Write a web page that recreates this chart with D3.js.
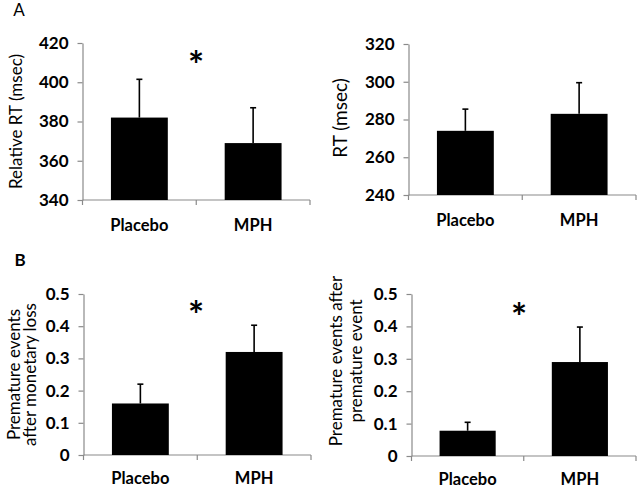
<!DOCTYPE html>
<html>
<head>
<meta charset="utf-8">
<script src="https://cdn.jsdelivr.net/npm/d3@7"></script>
<style>
  html, body { margin: 0; padding: 0; background: #fff; }
  svg { display: block; font-family: Lato, "Open Sans", sans-serif; }
</style>
</head>
<body>
<svg id="chart" width="640" height="490"></svg>
<script>
// ---- data ----
const categories = ["Placebo", "MPH"];

const relRTMeans = [382, 369];
const relRTErr   = [19.5, 18];
const relRTTicks = [340, 360, 380, 400, 420];

const rtMeans = [274, 283];
const rtErr   = [11.5, 16.5];
const rtTicks = [240, 260, 280, 300, 320];

const lossMeans = [0.16, 0.32];
const lossErr   = [0.06, 0.083];
const lossTicks = [0, 0.1, 0.2, 0.3, 0.4, 0.5];

const premMeans = [0.078, 0.29];
const premErr   = [0.026, 0.108];
const premTicks = [0, 0.1, 0.2, 0.3, 0.4, 0.5];

const panelLetters = ["A", "B"];

// ---- layout per panel ----
const fmtDec = d => d === 0 ? "0" : d3.format(".1f")(d);
const panels = [
  { means: relRTMeans, err: relRTErr, ticks: relRTTicks, fmt: d => d,
    x0: 82.5, x1: 310, yTop: 43, yBot: 200, catDY: 25,
    label: ["Relative RT (msec)"], labelX: 22, labelLH: 16, labelFS: 17, star: [196, 59] },
  { means: rtMeans, err: rtErr, ticks: rtTicks, fmt: d => d,
    x0: 408.5, x1: 636, yTop: 44, yBot: 195, catDY: 25,
    label: ["RT (msec)"], labelX: 347, labelLH: 16, labelFS: 19, star: null, labelCY: 118 },
  { means: lossMeans, err: lossErr, ticks: lossTicks, fmt: fmtDec,
    x0: 83.5, x1: 311, yTop: 294, yBot: 455, catDY: 23,
    label: ["Premature events", "after monetary loss"], labelX: 20, labelLH: 15.5, labelFS: 17, star: [196, 309] },
  { means: premMeans, err: premErr, ticks: premTicks, fmt: fmtDec,
    x0: 411.5, x1: 636, yTop: 294, yBot: 456, catDY: 23,
    label: ["Premature events after", "premature event"], labelX: 342, labelLH: 20, labelFS: 17, star: [519, 311], labelCY: 361 }
];

const svg = d3.select("#chart");
const axisColor = "#8a8a8a";

panels.forEach(p => {
  const g = svg.append("g");
  const x = d3.scaleBand().domain(categories).range([p.x0, p.x1]).paddingInner(0.5).paddingOuter(0.25);
  const y = d3.scaleLinear().domain([p.ticks[0], p.ticks[p.ticks.length - 1]]).range([p.yBot, p.yTop]);

  // y axis
  const yAxis = d3.axisLeft(y).tickValues(p.ticks).tickFormat(p.fmt).tickSizeInner(5).tickSizeOuter(0).tickPadding(9);
  const ya = g.append("g").attr("transform", `translate(${p.x0},0)`).call(yAxis);
  ya.select(".domain").attr("stroke", axisColor).attr("stroke-width", 1.2);
  ya.selectAll(".tick line").attr("stroke", axisColor).attr("stroke-width", 1.2);
  ya.selectAll(".tick text").attr("fill", "#000").attr("font-family", "Lato, sans-serif")
    .attr("font-size", 17).attr("font-weight", 700);

  // x axis (line + ticks at band edges)
  const xa = g.append("g").attr("transform", `translate(0,${p.yBot})`);
  xa.append("line").attr("x1", p.x0).attr("x2", p.x1).attr("stroke", axisColor).attr("stroke-width", 1.2);
  const edges = [p.x0, (p.x0 + p.x1) / 2, p.x1];
  xa.selectAll("line.t").data(edges).enter().append("line").attr("class", "t")
    .attr("x1", d => d).attr("x2", d => d).attr("y1", 0).attr("y2", 5)
    .attr("stroke", axisColor).attr("stroke-width", 1.2);
  xa.selectAll("text").data(categories).enter().append("text")
    .attr("x", d => x(d) + x.bandwidth() / 2).attr("y", p.catDY)
    .attr("text-anchor", "middle").attr("dominant-baseline", "central")
    .attr("font-size", 16.5).attr("font-weight", 700).text(d => d);

  // error bars (upper only)
  const eb = g.selectAll("g.err").data(categories).enter().append("g").attr("class", "err");
  eb.append("line")
    .attr("x1", d => x(d) + x.bandwidth() / 2).attr("x2", d => x(d) + x.bandwidth() / 2)
    .attr("y1", (d, i) => y(p.means[i])).attr("y2", (d, i) => y(p.means[i] + p.err[i]))
    .attr("stroke", "#000").attr("stroke-width", 1.6);
  eb.append("line")
    .attr("x1", d => x(d) + x.bandwidth() / 2 - 3).attr("x2", d => x(d) + x.bandwidth() / 2 + 3)
    .attr("y1", (d, i) => y(p.means[i] + p.err[i])).attr("y2", (d, i) => y(p.means[i] + p.err[i]))
    .attr("stroke", "#000").attr("stroke-width", 1.6);

  // bars
  g.selectAll("rect").data(categories).enter().append("rect")
    .attr("x", d => x(d)).attr("width", x.bandwidth())
    .attr("y", (d, i) => y(p.means[i])).attr("height", (d, i) => p.yBot - y(p.means[i]))
    .attr("fill", "#000");

  // y label (first line leftmost)
  const cy = p.labelCY !== undefined ? p.labelCY : (p.yTop + p.yBot) / 2;
  p.label.forEach((t, k) => {
    const bx = p.labelX + k * p.labelLH;
    g.append("text")
      .attr("transform", `translate(${bx},${cy}) rotate(-90)`)
      .attr("text-anchor", "middle").attr("font-size", p.labelFS).attr("font-weight", 400)
      .text(t);
  });

  // significance star
  if (p.star) {
    g.append("text").attr("x", p.star[0]).attr("y", p.star[1] + 20)
      .attr("text-anchor", "middle").attr("font-size", 38).attr("font-weight", 700).text("*");
  }
});

// panel letters
svg.append("text").attr("x", 19).attr("y", 16).attr("text-anchor", "middle")
  .attr("font-size", 17).attr("font-weight", 400).text(panelLetters[0]);
svg.append("text").attr("x", 20).attr("y", 266).attr("text-anchor", "middle")
  .attr("font-size", 17).attr("font-weight", 700).text(panelLetters[1]);
</script>
</body>
</html>
